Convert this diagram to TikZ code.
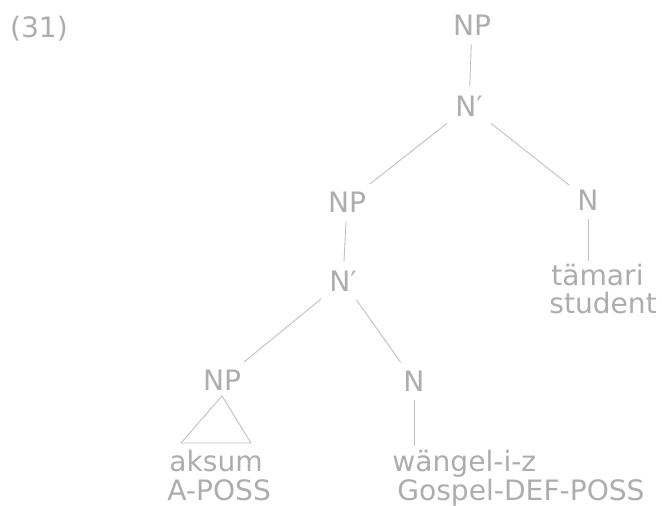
\documentclass[tikz,border=0pt]{standalone}
\usepackage{fontspec}
\setmainfont{DejaVu Sans}
\usepackage{tikz}
\usetikzlibrary{positioning}

\begin{document}
\begin{tikzpicture}[
  x=0.02cm,
  y=-0.02cm,
  cat/.style={font=\fontsize{16}{18}\selectfont,text=black!32,inner sep=3pt},
  word/.style={cat,anchor=base west,inner sep=0pt},
  branch/.style={draw=black!25,line width=0.5pt,shorten <=2pt,shorten >=2pt}
]
  \useasboundingbox (0,0) rectangle (662,506);

  \node[cat] (ex) at (39,29) {(31)};

  \node[cat] (np0) at (472,25) {NP};
  \node[cat] (nb0) at (469,106) {N′};
  \node[cat] (np1) at (347,202) {NP};
  \node[cat] (nr) at (588,200) {N};
  \node[cat] (nb1) at (343,281) {N′};
  \node[cat] (np2) at (222,380) {NP};
  \node[cat] (nl) at (414,381) {N};

  % leaves with glosses
  \node[word] (w1) at (551,286) {tämari};
  \node[word] (g1) at (549,314) {student};
  \node[word] (w2) at (169,471) {aksum};
  \node[word] (g2) at (167,500) {A-POSS};
  \node[word] (w3) at (392,471) {wängel-i-z};
  \node[word] (g3) at (397,500) {Gospel-DEF-POSS};

  \coordinate (tl) at (181,443);
  \coordinate (tr) at (251,443);

  \draw[branch] (np0) -- (nb0);
  \draw[branch] (nb0) -- (np1);
  \draw[branch] (nb0) -- (nr);
  \draw[branch] (np1) -- (nb1);
  \draw[branch] (nb1) -- (np2);
  \draw[branch] (nb1) -- (nl);
  \draw[branch] (nr) -- (nr |- w1.north);
  \draw[branch] (nl) -- (nl |- w3.north);
  \draw[draw=black!25,line width=0.5pt] (np2.south) -- (tl) -- (tr) -- cycle;
\end{tikzpicture}
\end{document}
